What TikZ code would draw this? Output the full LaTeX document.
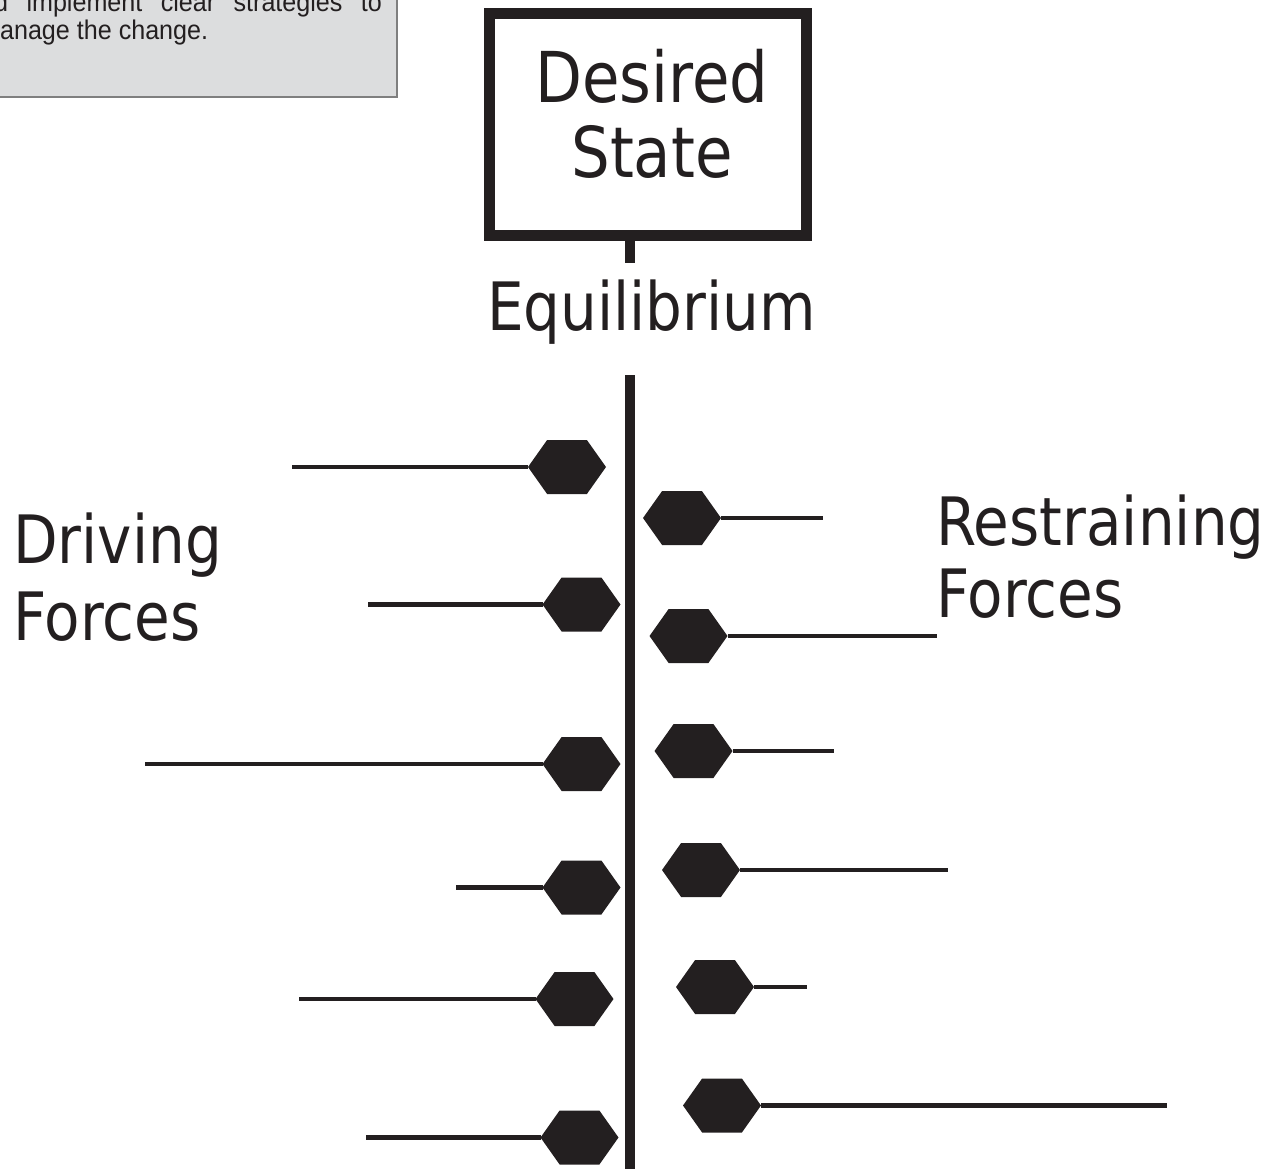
\documentclass[tikz,border=0pt]{standalone}
\usepackage{fontspec}
\usepackage{graphicx}
\setmainfont{DejaVu Sans}
\newfontfamily\notefont{Liberation Sans}
\usetikzlibrary{calc}
\definecolor{ink}{HTML}{231F20}
\definecolor{notefill}{HTML}{DCDDDE}
\definecolor{noteedge}{HTML}{7F7F7F}
\newcommand{\tall}[1]{\scalebox{1}[1.15]{#1}}
\newcommand{\narrow}[1]{\scalebox{0.93}[1]{#1}}
\tikzset{
  hexblob/.style={minimum width=78pt, minimum height=54pt, inner sep=0pt, outer sep=0pt,
    path picture={
      \fill[ink] (path picture bounding box.west)
        -- ($(path picture bounding box.north west)!0.245!(path picture bounding box.north east)$)
        -- ($(path picture bounding box.north west)!0.755!(path picture bounding box.north east)$)
        -- (path picture bounding box.east)
        -- ($(path picture bounding box.south west)!0.755!(path picture bounding box.south east)$)
        -- ($(path picture bounding box.south west)!0.245!(path picture bounding box.south east)$)
        -- cycle;}},
  force/.style={draw=ink, line width=4.5pt},
  bigtext/.style={inner sep=0pt, anchor=base west, text=ink},
  notetext/.style={inner sep=0pt, anchor=base west, text=ink, font=\notefont\fontsize{27}{30}\selectfont},
}
\begin{document}
\begin{tikzpicture}[x=1pt,y=-1pt]
\useasboundingbox (0,0) rectangle (1283,1168);

% note panel in the corner
\begin{scope}
  \clip (0,0) rectangle (398,98);
  \filldraw[fill=notefill, draw=noteedge, line width=1.5pt] (-5,-5) rectangle (397,97);
  \node[notetext] (note1) at (-34,11) {\narrow{\makebox[447pt][s]{and implement clear strategies to}}};
  \node[notetext] (note2) at (-21,39) {\narrow{manage the change.}};
\end{scope}

% goal box
\node[draw=ink, line width=11pt, minimum width=317pt, minimum height=222pt, inner sep=0pt]
  (goal) at (648,124.5) {};
\node[bigtext, anchor=base, font=\fontsize{61}{72}\selectfont] (goal1) at (652,102) {\tall{Desired}};
\node[bigtext, anchor=base, font=\fontsize{61}{72}\selectfont] (goal2) at (652,177) {\tall{State}};

% equilibrium axis
\coordinate (stubtop) at (630,236);
\coordinate (stubbot) at (630,263);
\draw[ink, line width=10pt] (stubtop) -- (stubbot);
\node[bigtext, anchor=base, font=\fontsize{58}{70}\selectfont] (eq) at (651.5,330) {\tall{Equilibrium}};
\coordinate (axtop) at (630,375);
\coordinate (axbot) at (630,1170);
\draw[ink, line width=10pt] (axtop) -- (axbot);

% side labels
\node[bigtext, font=\fontsize{58}{70}\selectfont] (drv1) at (13,563) {\tall{Driving}};
\node[bigtext, font=\fontsize{58}{70}\selectfont] (drv2) at (13,640) {\tall{Forces}};
\node[bigtext, font=\fontsize{58}{70}\selectfont] (rst1) at (936,545) {\tall{Restraining}};
\node[bigtext, font=\fontsize{58}{70}\selectfont] (rst2) at (936,617) {\tall{Forces}};

% driving forces (left)
\node[hexblob] (L1) at (567,467) {};
\node[hexblob] (L2) at (581.5,604.5) {};
\node[hexblob] (L3) at (581.5,764) {};
\node[hexblob] (L4) at (581.5,887.5) {};
\node[hexblob] (L5) at (574.5,999) {};
\node[hexblob] (L6) at (579.5,1137.5) {};
\coordinate (l1) at (292,467);
\coordinate (l2) at (368,604.5);
\coordinate (l3) at (145,764);
\coordinate (l4) at (456,887.5);
\coordinate (l5) at (299,999);
\coordinate (l6) at (366,1137.5);
\foreach \i in {1,...,6} \draw[force] (l\i) -- (L\i.west);

% restraining forces (right)
\node[hexblob] (R1) at (682,518) {};
\node[hexblob] (R2) at (688.5,636) {};
\node[hexblob] (R3) at (693.5,751) {};
\node[hexblob] (R4) at (701,870) {};
\node[hexblob] (R5) at (715,987) {};
\node[hexblob] (R6) at (722,1105.5) {};
\coordinate (r1) at (823,518);
\coordinate (r2) at (937,636);
\coordinate (r3) at (834,751);
\coordinate (r4) at (948,870);
\coordinate (r5) at (807,987);
\coordinate (r6) at (1167,1105.5);
\foreach \i in {1,...,6} \draw[force] (R\i.east) -- (r\i);
\end{tikzpicture}
\end{document}
